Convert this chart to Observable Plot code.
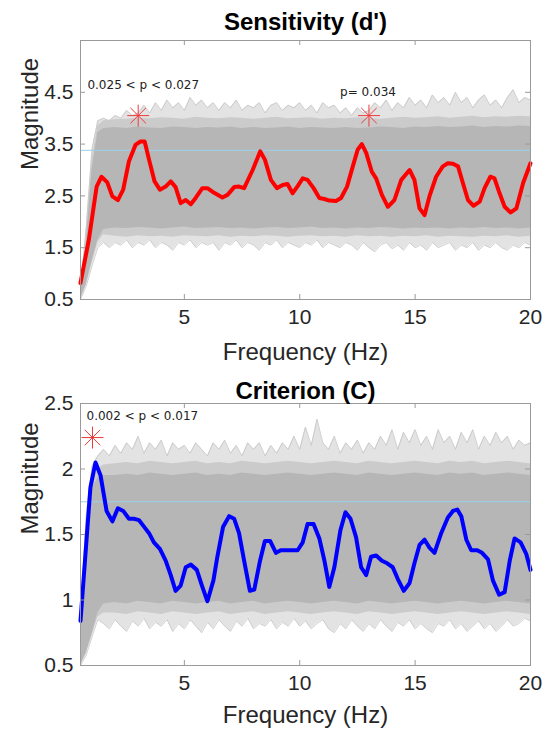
<!DOCTYPE html>
<html><head><meta charset="utf-8">
<script src="https://cdn.jsdelivr.net/npm/d3@7"></script>
<script src="https://cdn.jsdelivr.net/npm/@observablehq/plot@0.6"></script>
<style>body{margin:0;background:#fff;} #chart svg{display:block;}</style>
</head><body><div id="chart"></div>
<script>
// ---- observed spectra ----
const dFreq = [0.5,0.86,1.2,1.41,1.66,1.88,2.12,2.35,2.6,2.89,3.1,3.28,3.47,3.71,3.94,4.19,4.41,4.62,4.84,5.06,5.28,5.49,5.78,6.0,6.29,6.65,6.87,7.16,7.37,7.59,7.96,8.29,8.49,8.75,9.01,9.26,9.47,9.69,9.91,10.13,10.34,10.6,10.85,11.07,11.28,11.57,11.79,12.05,12.3,12.51,12.69,12.88,13.12,13.31,13.56,13.82,14.1,14.4,14.76,14.97,15.19,15.41,15.62,15.91,16.2,16.42,16.64,16.86,17.07,17.29,17.53,17.8,18.01,18.26,18.44,18.66,18.88,19.14,19.39,19.68,20.0];
const dVal = [0.82,1.65,2.68,2.87,2.76,2.49,2.42,2.62,3.17,3.49,3.55,3.55,3.20,2.78,2.62,2.68,2.78,2.67,2.36,2.42,2.34,2.46,2.65,2.65,2.56,2.47,2.52,2.67,2.68,2.65,3.0,3.36,3.20,2.81,2.65,2.71,2.73,2.55,2.69,2.84,2.81,2.65,2.46,2.44,2.41,2.40,2.46,2.68,3.07,3.39,3.50,3.33,2.97,2.84,2.52,2.29,2.42,2.81,3.0,2.81,2.26,2.13,2.49,2.87,3.07,3.13,3.12,3.07,2.75,2.42,2.31,2.39,2.65,2.87,2.84,2.55,2.29,2.18,2.26,2.75,3.13];
const cFreq = [0.5,0.93,1.15,1.37,1.63,1.88,2.12,2.35,2.6,2.81,3.03,3.25,3.47,3.68,3.94,4.19,4.41,4.62,4.84,5.06,5.28,5.54,5.78,6.0,6.26,6.43,6.68,6.94,7.16,7.37,7.59,7.84,8.03,8.28,8.49,8.72,8.97,9.18,9.40,9.65,9.91,10.13,10.34,10.6,10.85,11.07,11.28,11.5,11.76,11.98,12.2,12.44,12.66,12.88,13.09,13.31,13.56,13.79,14.03,14.25,14.51,14.76,14.97,15.19,15.41,15.62,15.84,16.13,16.42,16.64,16.83,17.0,17.22,17.43,17.69,17.9,18.16,18.37,18.64,18.88,19.1,19.31,19.57,19.82,20.0];
const cVal = [0.84,1.86,2.05,1.95,1.68,1.60,1.70,1.68,1.62,1.62,1.61,1.56,1.51,1.44,1.39,1.30,1.19,1.07,1.11,1.25,1.27,1.23,1.10,0.99,1.15,1.33,1.56,1.64,1.62,1.51,1.30,1.07,1.08,1.30,1.45,1.45,1.36,1.38,1.38,1.38,1.38,1.44,1.58,1.58,1.47,1.30,1.10,1.25,1.53,1.67,1.62,1.48,1.25,1.19,1.33,1.34,1.30,1.28,1.25,1.16,1.07,1.13,1.28,1.42,1.46,1.40,1.36,1.51,1.63,1.68,1.69,1.64,1.46,1.38,1.38,1.36,1.31,1.15,1.04,1.06,1.30,1.47,1.44,1.35,1.23];

// ---- permutation cloud envelopes ----
const fineFreq = [0.5,0.75,1,1.25,1.5,1.75,2,2.25,2.5,2.75,3,3.25,3.5,3.75,4,4.25,4.5,4.75,5,5.25,5.5,5.75,6,6.25,6.5,6.75,7,7.25,7.5,7.75,8,8.25,8.5,8.75,9,9.25,9.5,9.75,10,10.25,10.5,10.75,11,11.25,11.5,11.75,12,12.25,12.5,12.75,13,13.25,13.5,13.75,14,14.25,14.5,14.75,15,15.25,15.5,15.75,16,16.25,16.5,16.75,17,17.25,17.5,17.75,18,18.25,18.5,18.75,19,19.25,19.5,19.75,20];
const dOuterHi = [0.7,1.9,3.4,3.95,4.0,3.95,4.05,4.0,4.15,4.05,4.1,4.25,4.1,4.3,4.15,4.35,4.2,4.3,4.15,4.4,4.25,4.35,4.2,4.3,4.15,4.3,4.2,4.35,4.15,4.25,4.2,4.3,4.1,4.25,4.3,4.15,4.25,4.2,4.3,4.15,4.25,4.1,4.3,4.2,4.25,4.1,4.2,4.05,4.2,4.1,4.15,4.3,4.2,4.35,4.15,4.3,4.2,4.4,4.25,4.35,4.2,4.45,4.3,4.4,4.25,4.5,4.3,4.4,4.2,4.35,4.45,4.25,4.35,4.2,4.4,4.55,4.3,4.4,4.35];
const dOuterLo = [0.5,0.76,1.15,1.5,1.6,1.5,1.6,1.55,1.65,1.5,1.6,1.55,1.65,1.5,1.6,1.55,1.45,1.6,1.55,1.65,1.5,1.6,1.55,1.6,1.45,1.6,1.55,1.65,1.5,1.6,1.55,1.45,1.6,1.55,1.65,1.5,1.6,1.55,1.5,1.6,1.55,1.65,1.5,1.6,1.55,1.5,1.6,1.55,1.45,1.6,1.5,1.42,1.55,1.6,1.48,1.55,1.45,1.6,1.5,1.55,1.45,1.6,1.5,1.55,1.6,1.45,1.55,1.5,1.6,1.45,1.55,1.5,1.6,1.5,1.45,1.55,1.5,1.6,1.55];
const cOuterHi = [0.88,1.65,2.02,2.1,2.15,2.1,2.18,2.12,2.2,2.15,2.25,2.12,2.2,2.15,2.22,2.1,2.2,2.15,2.18,2.12,2.2,2.15,2.1,2.2,2.15,2.22,2.12,2.18,2.1,2.2,2.15,2.2,2.1,2.18,2.12,2.2,2.15,2.25,2.15,2.32,2.18,2.38,2.2,2.15,2.25,2.12,2.2,2.15,2.22,2.12,2.2,2.15,2.25,2.18,2.3,2.15,2.28,2.2,2.3,2.18,2.25,2.15,2.3,2.2,2.25,2.15,2.28,2.2,2.3,2.15,2.25,2.18,2.28,2.2,2.25,2.15,2.22,2.18,2.2];
const cOuterLo = [0.5,0.58,0.72,0.85,0.82,0.78,0.85,0.8,0.76,0.84,0.8,0.86,0.78,0.83,0.8,0.85,0.76,0.82,0.78,0.85,0.8,0.75,0.83,0.78,0.85,0.8,0.76,0.84,0.8,0.86,0.78,0.82,0.8,0.85,0.78,0.83,0.8,0.86,0.8,0.84,0.78,0.82,0.85,0.78,0.75,0.82,0.78,0.85,0.8,0.76,0.82,0.78,0.85,0.8,0.76,0.83,0.8,0.85,0.78,0.82,0.78,0.75,0.82,0.8,0.85,0.78,0.82,0.76,0.8,0.84,0.78,0.82,0.76,0.8,0.85,0.8,0.82,0.86,0.84];

const coarseFreq = [0.5,0.75,1,1.25,1.5,2,2.5,3,3.5,4,4.5,5,5.5,6,6.5,7,7.5,8,8.5,9,9.5,10,10.5,11,11.5,12,12.5,13,13.5,14,14.5,15,15.5,16,16.5,17,17.5,18,18.5,19,19.5,20];
const dCoreHi = [0.6,1.6,3.0,3.72,3.8,3.82,3.8,3.83,3.81,3.8,3.83,3.82,3.8,3.82,3.81,3.83,3.8,3.82,3.8,3.81,3.83,3.8,3.82,3.81,3.8,3.82,3.8,3.81,3.83,3.82,3.8,3.83,3.82,3.84,3.82,3.83,3.85,3.82,3.84,3.83,3.85,3.84];
const dMidHi = [0.65,1.75,3.2,3.85,3.95,3.97,3.98,4.0,3.99,4.01,4.0,3.98,4.02,4.0,3.99,4.01,4.0,3.98,4.0,4.02,3.99,4.0,4.01,3.98,4.0,3.99,4.01,4.0,3.98,4.0,4.02,4.0,4.01,4.03,4.0,4.02,4.04,4.01,4.03,4.02,4.04,4.03];
const dCoreLo = [0.5,0.8,1.25,1.65,1.85,1.88,1.87,1.89,1.88,1.86,1.88,1.9,1.87,1.88,1.89,1.87,1.88,1.86,1.88,1.89,1.87,1.88,1.9,1.87,1.88,1.86,1.88,1.87,1.89,1.88,1.86,1.88,1.87,1.88,1.86,1.88,1.87,1.89,1.87,1.88,1.86,1.88];
const dMidLo = [0.5,0.78,1.2,1.6,1.75,1.72,1.7,1.73,1.71,1.72,1.7,1.73,1.72,1.71,1.73,1.7,1.72,1.71,1.73,1.72,1.7,1.72,1.73,1.71,1.72,1.7,1.73,1.71,1.72,1.7,1.72,1.71,1.73,1.7,1.72,1.71,1.7,1.72,1.71,1.73,1.7,1.72];
const cCoreHi = [0.82,1.5,1.85,1.93,1.95,1.95,1.96,1.95,1.97,1.96,1.95,1.96,1.97,1.95,1.96,1.95,1.97,1.96,1.95,1.96,1.97,1.96,1.95,1.96,1.97,1.96,1.95,1.97,1.96,1.95,1.96,1.97,1.96,1.95,1.97,1.96,1.97,1.95,1.96,1.97,1.96,1.95];
const cMidHi = [0.85,1.58,1.93,2.0,2.03,2.04,2.05,2.04,2.06,2.05,2.04,2.05,2.06,2.04,2.05,2.04,2.06,2.05,2.04,2.05,2.06,2.05,2.04,2.05,2.06,2.05,2.04,2.06,2.05,2.04,2.05,2.06,2.05,2.04,2.06,2.05,2.06,2.04,2.05,2.06,2.05,2.04];
const cCoreLo = [0.5,0.6,0.74,0.9,0.97,0.98,0.97,0.99,0.98,0.97,0.99,0.98,0.97,0.98,0.99,0.97,0.98,0.99,0.97,0.98,0.99,0.98,0.97,0.98,0.99,0.98,0.97,0.99,0.98,0.97,0.98,0.99,0.98,0.97,0.98,0.99,0.98,0.97,0.98,0.99,0.98,0.97];
const cMidLo = [0.5,0.59,0.73,0.87,0.9,0.9,0.89,0.91,0.9,0.89,0.91,0.9,0.89,0.9,0.91,0.89,0.9,0.91,0.89,0.9,0.91,0.9,0.89,0.9,0.91,0.9,0.89,0.91,0.9,0.89,0.9,0.91,0.9,0.89,0.9,0.91,0.9,0.89,0.9,0.91,0.9,0.89];

// ---- thresholds, markers, annotations, ticks ----
const dThreshold = 3.38;
const cThreshold = 1.75;
const dStarFreq = [3.0, 13.0];
const dStarVal = [4.05, 4.05];
const cStarFreq = [1.02];
const cStarVal = [2.24];
const dNoteText = ["0.025 < p < 0.027", "p= 0.034"];
const dNoteFreq = [0.8, 11.75];
const dNoteVal = [4.64, 4.5];
const cNoteText = ["0.002 < p < 0.017"];
const cNoteFreq = [0.76];
const cNoteVal = [2.40];
const xTicks = [5, 10, 15, 20];
const dYTicks = [0.5, 1.5, 2.5, 3.5, 4.5];
const cYTicks = [0.5, 1, 1.5, 2, 2.5];

const zip = (fs, cols) => fs.map((f, i) => { const o = {f}; for (const k in cols) o[k] = cols[k][i]; return o; });

const asterisk = {
  draw(ctx, size) {
    const r = Math.sqrt(size / Math.PI), d = r * Math.SQRT1_2;
    ctx.moveTo(-r, 0); ctx.lineTo(r, 0);
    ctx.moveTo(0, -r); ctx.lineTo(0, r);
    ctx.moveTo(-d, -d); ctx.lineTo(d, d);
    ctx.moveTo(-d, d); ctx.lineTo(d, -d);
  }
};

function panel(o) {
  const W = 543, ml = 80, mr = 13;
  const xDom = [0.5, 20];
  const ph = o.height - o.mt - o.mb, pw = W - ml - mr;
  const tkY = (o.yDom[1] - o.yDom[0]) * 5 / ph;
  const tkX = (xDom[1] - xDom[0]) * 5 / pw;
  const outer = zip(fineFreq, {hi: o.outerHi, lo: o.outerLo});
  const mid = zip(coarseFreq, {hi: o.midHi, lo: o.midLo});
  const core = zip(coarseFreq, {hi: o.coreHi, lo: o.coreLo});
  const series = zip(o.freq, {v: o.val});
  const stars = zip(o.starF, {v: o.starV});
  const notes = zip(o.noteF, {v: o.noteV, t: o.noteT});
  const frameC = "#9a9a9a";
  return Plot.plot({
    width: W, height: o.height,
    marginLeft: ml, marginRight: mr, marginTop: o.mt, marginBottom: o.mb,
    x: {domain: xDom},
    y: {domain: o.yDom},
    style: {fontFamily: "'Liberation Sans', Arial, sans-serif", color: "#262626", background: "#fff", overflow: "visible"},
    marks: [
      Plot.areaY(outer, {x: "f", y1: "lo", y2: "hi", fill: "#e3e3e3"}),
      Plot.line(outer, {x: "f", y: "hi", stroke: "#c4c4c4", strokeWidth: 0.8}),
      Plot.line(outer, {x: "f", y: "lo", stroke: "#c4c4c4", strokeWidth: 0.8}),
      Plot.areaY(mid, {x: "f", y1: "lo", y2: "hi", fill: "#cbcbcb"}),
      Plot.areaY(core, {x: "f", y1: "lo", y2: "hi", fill: "#b6b6b6"}),
      Plot.ruleY([o.thr], {stroke: "#99d1ea", strokeWidth: 1}),
      Plot.line(series, {x: "f", y: "v", stroke: o.color, strokeWidth: 4, strokeLinejoin: "round", strokeLinecap: "round"}),
      Plot.dot(stars, {x: "f", y: "v", r: 11, symbol: asterisk, stroke: "#ee3a3a", strokeWidth: 1, fill: "none"}),
      Plot.text(notes, {x: "f", y: "v", text: "t", textAnchor: "start", fontFamily: "'DejaVu Sans', sans-serif", fontSize: 12, fill: "#222"}),
      Plot.frame({stroke: frameC}),
      Plot.ruleX(xTicks, {x: d => d, y1: o.yDom[0], y2: o.yDom[0] + tkY, stroke: frameC}),
      Plot.ruleX(xTicks, {x: d => d, y1: o.yDom[1], y2: o.yDom[1] - tkY, stroke: frameC}),
      Plot.ruleY(o.yTicks, {y: d => d, x1: xDom[0], x2: xDom[0] + tkX, stroke: frameC}),
      Plot.ruleY(o.yTicks, {y: d => d, x1: xDom[1], x2: xDom[1] - tkX, stroke: frameC}),
      Plot.axisX(xTicks, {tickSize: 0, tickPadding: 10, fontSize: 21, label: null}),
      Plot.axisY(o.yTicks, {tickSize: 0, tickPadding: 7, fontSize: 21, label: null, tickFormat: d => String(d)}),
      Plot.text([o.title], {text: d => d, frameAnchor: "top", dy: o.titleDy, lineAnchor: "bottom", fontSize: 24, fontWeight: "bold", fill: "#000"}),
      Plot.text(["Frequency (Hz)"], {text: d => d, frameAnchor: "bottom", dy: o.xlabDy, lineAnchor: "middle", fontSize: 24}),
      Plot.text(["Magnitude"], {text: d => d, frameAnchor: "left", dx: -50, rotate: -90, lineAnchor: "middle", fontSize: 24})
    ]
  });
}

const chart = document.getElementById("chart");
chart.append(panel({
  height: 370, mt: 40, mb: 71, yDom: [0.5, 5.5], yTicks: dYTicks,
  freq: dFreq, val: dVal, color: "#ff0000",
  outerHi: dOuterHi, outerLo: dOuterLo, midHi: dMidHi, midLo: dMidLo, coreHi: dCoreHi, coreLo: dCoreLo,
  thr: dThreshold, starF: dStarFreq, starV: dStarVal,
  noteF: dNoteFreq, noteV: dNoteVal, noteT: dNoteText,
  title: "Sensitivity (d')", titleDy: -11, xlabDy: 53
}));
chart.append(panel({
  height: 363, mt: 33, mb: 68, yDom: [0.5, 2.5], yTicks: cYTicks,
  freq: cFreq, val: cVal, color: "#0000ff",
  outerHi: cOuterHi, outerLo: cOuterLo, midHi: cMidHi, midLo: cMidLo, coreHi: cCoreHi, coreLo: cCoreLo,
  thr: cThreshold, starF: cStarFreq, starV: cStarVal,
  noteF: cNoteFreq, noteV: cNoteVal, noteT: cNoteText,
  title: "Criterion (C)", titleDy: -5, xlabDy: 50
}));
</script>
</body></html>
